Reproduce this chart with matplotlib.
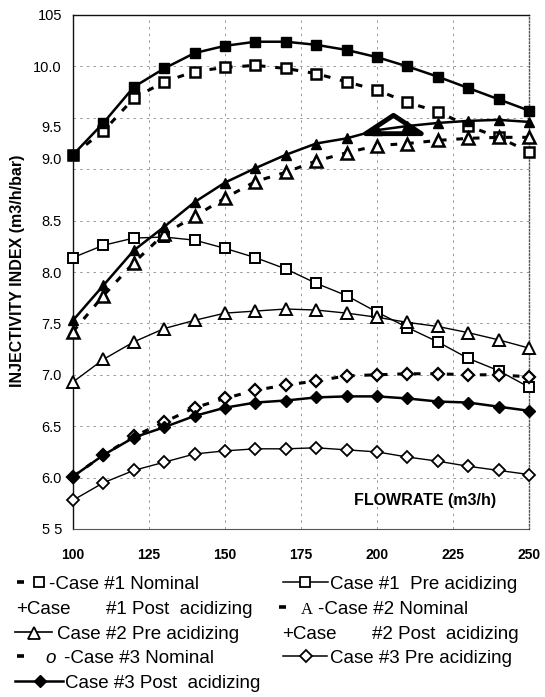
import matplotlib
matplotlib.use("Agg")
import matplotlib.pyplot as plt
from matplotlib import font_manager
from matplotlib.path import Path
import matplotlib.transforms as mtransforms

# ---------------- data ----------------
flow = [100, 110, 120, 130, 140, 150, 160, 170, 180, 190, 200, 210, 220, 230, 240, 250]

case1_nominal = [9.14, 9.37, 9.69, 9.85, 9.95, 9.99, 10.01, 9.98, 9.93, 9.85, 9.77, 9.65, 9.56, 9.42, 9.31, 9.17]
case1_pre = [8.14, 8.26, 8.33, 8.34, 8.31, 8.23, 8.14, 8.03, 7.89, 7.77, 7.61, 7.46, 7.32, 7.16, 7.04, 6.88]
case1_post = [9.14, 9.45, 9.80, 9.98, 10.13, 10.20, 10.24, 10.24, 10.21, 10.16, 10.09, 10.00, 9.90, 9.79, 9.68, 9.57]

case2_nominal = [7.42, 7.77, 8.09, 8.37, 8.54, 8.72, 8.88, 8.97, 9.08, 9.16, 9.23, 9.25, 9.28, 9.30, 9.31, 9.31]
case2_pre = [6.93, 7.15, 7.32, 7.45, 7.53, 7.60, 7.62, 7.64, 7.63, 7.60, 7.56, 7.51, 7.47, 7.41, 7.34, 7.26]
case2_post = [7.53, 7.87, 8.21, 8.44, 8.68, 8.87, 9.01, 9.14, 9.25, 9.30, 9.38, 9.42, 9.45, 9.47, 9.48, 9.46]

case3_nominal = [6.01, 6.22, 6.40, 6.54, 6.68, 6.77, 6.85, 6.90, 6.94, 6.99, 7.00, 7.01, 7.01, 7.00, 7.00, 6.98]
case3_pre = [5.78, 5.95, 6.07, 6.15, 6.23, 6.26, 6.28, 6.28, 6.29, 6.27, 6.25, 6.20, 6.16, 6.11, 6.07, 6.03]
case3_post = [6.01, 6.22, 6.39, 6.49, 6.60, 6.68, 6.73, 6.75, 6.78, 6.79, 6.79, 6.77, 6.74, 6.73, 6.69, 6.65]

x_ticks = [100, 125, 150, 175, 200, 225, 250]
x_tick_labels = ["100", "125", "150", "175", "200", "225", "250"]
y_ticks = [5.5, 6.0, 6.5, 7.0, 7.5, 8.0, 8.5, 9.0, 9.5, 10.0, 10.5]
y_tick_labels = ["5 5", "6.0", "6.5", "7.0", "7.5", "8.0", "8.5", "9.0", "9.5", "10.0", "105"]

y_label = "INJECTIVITY INDEX (m3/h/bar)"
x_label = "FLOWRATE (m3/h)"

# ---------------- fonts ----------------
names = {f.name for f in font_manager.fontManager.ttflist}
BASE = "Liberation Sans" if "Liberation Sans" in names else "DejaVu Sans"
if "Liberation Sans Narrow" in names:
    LEG_FAMILY, LEG_SIZE = "Liberation Sans Narrow", 16.0
else:
    LEG_FAMILY, LEG_SIZE = BASE, 13.5
plt.rcParams["font.family"] = [BASE, "DejaVu Sans"]

W, H = 545, 697
fig = plt.figure(figsize=(W / 100, H / 100), dpi=100)
fig.patch.set_facecolor("white")

# axes box in pixels: left 73, right 529, top 15, bottom 529
ax = fig.add_axes([73 / W, (H - 529) / H, (529 - 73) / W, (529 - 15) / H])
ax.set_xlim(100, 250)
ax.set_ylim(5.5, 10.5)

ax.set_xticks(x_ticks)
ax.set_xticklabels(x_tick_labels, fontsize=10, fontweight="bold")
ax.set_yticks(y_ticks)
ax.set_yticklabels(y_tick_labels, fontsize=10.5)
ax.tick_params(axis="x", length=0, pad=14)
ax.tick_params(axis="y", length=0, pad=8)

# the scanned original has two y labels slightly displaced
shifts = {"9.5": -9, "9.0": 11}
for lab in ax.get_yticklabels():
    dy = shifts.get(lab.get_text())
    if dy:
        lab.set_transform(lab.get_transform() +
                          mtransforms.ScaledTranslation(0, dy / 100, fig.dpi_scale_trans))

ax.grid(True, color="#8a8a8a", linewidth=0.6, linestyle=(0, (3, 5)))
ax.set_axisbelow(True)

for s in ["left", "top"]:
    ax.spines[s].set_color("#111111")
    ax.spines[s].set_linewidth(1.0)
ax.spines["bottom"].set_color("#555555")
ax.spines["bottom"].set_linewidth(0.8)
ax.spines["right"].set_color("#555555")
ax.spines["right"].set_linewidth(1.0)
ax.spines["right"].set_linestyle((0, (1, 1.5)))

K = "black"
dash = (0, (2.2, 3.2))

# Pre acidizing (thin solid, open markers)
ax.plot(flow, case1_pre, color=K, lw=1.0, marker="s", ms=7, mfc="white", mec=K, mew=1.4, clip_on=False, zorder=3)
ax.plot(flow, case2_pre, color=K, lw=1.0, marker="^", ms=8, mfc="white", mec=K, mew=1.4, clip_on=False, zorder=3)
ax.plot(flow, case3_pre, color=K, lw=1.0, marker="D", ms=6, mfc="white", mec=K, mew=1.3, clip_on=False, zorder=3)

# Nominal (dashed, open markers)
ax.plot(flow, case1_nominal, color=K, lw=2.2, ls=dash, marker="s", ms=7.5, mfc="white", mec=K, mew=1.8, clip_on=False, zorder=4)
ax.plot(flow, case2_nominal, color=K, lw=2.2, ls=dash, marker="^", ms=8.5, mfc="white", mec=K, mew=1.8, clip_on=False, zorder=4)
ax.plot(flow, case3_nominal, color=K, lw=2.2, ls=dash, marker="D", ms=6.5, mfc="white", mec=K, mew=1.6, clip_on=False, zorder=4)

# Post acidizing (thick solid, filled markers)
ax.plot(flow, case1_post, color=K, lw=1.8, marker="s", ms=7.5, mfc=K, mec=K, clip_on=False, zorder=5)
ax.plot(flow, case2_post, color=K, lw=1.8, marker="^", ms=7, mfc=K, mec=K, clip_on=False, zorder=5)
ax.plot(flow, case3_post, color=K, lw=1.8, marker="D", ms=6, mfc=K, mec=K, clip_on=False, zorder=5)

# large scan artifact "A" over the 200 m3/h point of case #2 post acidizing
big_a = Path([(-1, -0.33), (0, 0.33), (1, -0.33), (-1, -0.33)],
             [Path.MOVETO, Path.LINETO, Path.LINETO, Path.CLOSEPOLY])
off = mtransforms.ScaledTranslation(16 / 100, 6 / 100, fig.dpi_scale_trans)
i200 = flow.index(200)
ax.plot([flow[i200]], [case2_post[i200]], marker=big_a, ms=40, mfc="none", mec=K, mew=3.5,
        transform=ax.transData + off, clip_on=False, zorder=6)

# axis titles
fig.text(18 / W, 1 - 271 / H, y_label, rotation=90, fontsize=11.5, fontweight="bold",
         ha="center", va="center")
fig.text(425 / W, 1 - 500 / H, x_label, fontsize=11.5, fontweight="bold", ha="center", va="center")

# ---------------- legend (manual, figure pixel coordinates) ----------------
lg = fig.add_axes([0, 0, 1, 1], facecolor="none")
lg.set_xlim(0, W)
lg.set_ylim(H, 0)
lg.axis("off")

def txt(x, base_y, s, **kw):
    lg.text(x, base_y, s, fontsize=LEG_SIZE, family=[LEG_FAMILY, "DejaVu Sans"], ha="left", va="baseline", **kw)

def dashbox(x, yc):
    lg.plot([x, x + 7], [yc, yc], color=K, lw=2.6, solid_capstyle="butt")

rows = [582, 607, 632, 656, 681]
bases = [589, 614, 639, 663, 688]

# left column
dashbox(17, rows[0])
lg.plot([39], [rows[0]], marker="s", ms=7, mfc="white", mec=K, mew=1.3)
txt(49, bases[0], "-Case #1 Nominal")

txt(16, bases[1], "+Case")
txt(106, bases[1], "#1 Post  acidizing")

lg.plot([15, 52], [rows[2], rows[2]], color=K, lw=1.2)
lg.plot([34], [rows[2] + 1], marker="^", ms=8, mfc="white", mec=K, mew=1.3)
txt(57, bases[2], "Case #2 Pre acidizing")

dashbox(17, rows[3])
txt(45, bases[3], "o", style="italic")
txt(64, bases[3], "-Case #3 Nominal")

lg.plot([15, 63], [rows[4], rows[4]], color=K, lw=1.8)
lg.plot([40], [rows[4]], marker="D", ms=6, mfc=K, mec=K)
txt(65, bases[4], "Case #3 Post  acidizing")

# right column
lg.plot([283, 328], [rows[0], rows[0]], color=K, lw=1.1)
lg.plot([305], [rows[0]], marker="s", ms=7.5, mfc="white", mec=K, mew=1.3)
txt(330, bases[0], "Case #1  Pre acidizing")

dashbox(279, rows[1])
lg.text(301, bases[1], "A", fontsize=12, family=["Liberation Serif", "DejaVu Serif"], ha="left", va="baseline")
txt(318, bases[1], "-Case #2 Nominal")

txt(282, bases[2], "+Case")
txt(372, bases[2], "#2 Post  acidizing")

lg.plot([283, 327], [rows[3], rows[3]], color=K, lw=1.1)
lg.plot([306], [rows[3]], marker="D", ms=6, mfc="white", mec=K, mew=1.3)
txt(330, bases[3], "Case #3 Pre acidizing")

fig.savefig("out.png", dpi=100, facecolor="white")
